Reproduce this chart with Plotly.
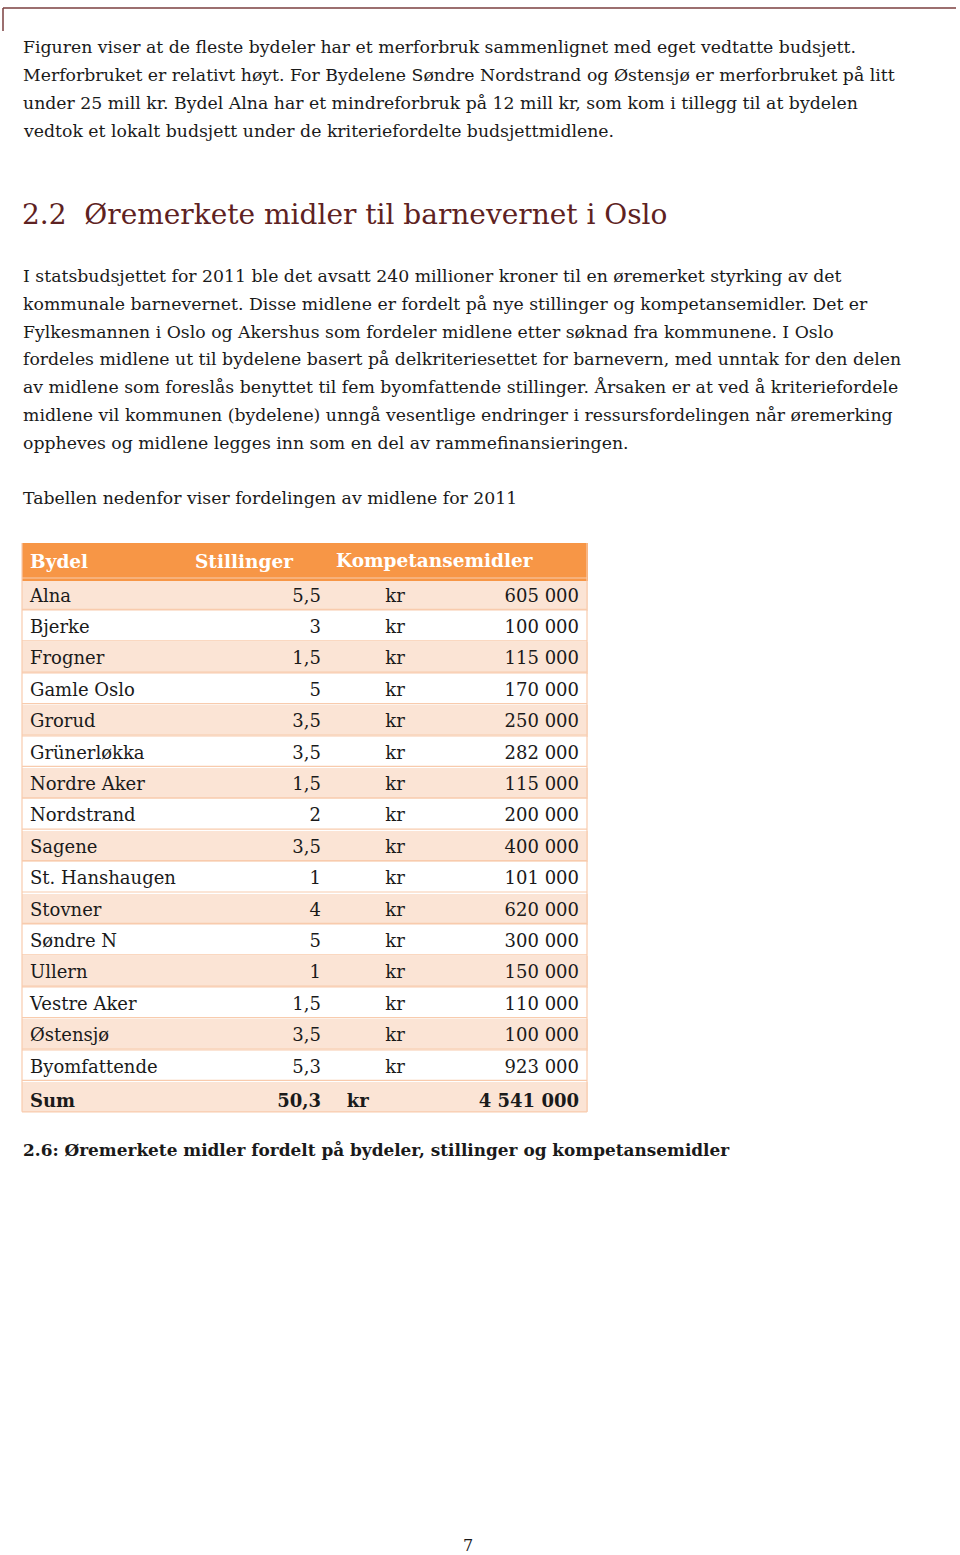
import plotly.graph_objects as go

# ---------------- data ----------------
bydel = ["Alna", "Bjerke", "Frogner", "Gamle Oslo", "Grorud", "Grünerløkka",
         "Nordre Aker", "Nordstrand", "Sagene", "St. Hanshaugen", "Stovner",
         "Søndre N", "Ullern", "Vestre Aker", "Østensjø", "Byomfattende"]
stillinger = [5.5, 3, 1.5, 5, 3.5, 3.5, 1.5, 2, 3.5, 1, 4, 5, 1, 1.5, 3.5, 5.3]
kompetansemidler = [605000, 100000, 115000, 170000, 250000, 282000, 115000,
                    200000, 400000, 101000, 620000, 300000, 150000, 110000,
                    100000, 923000]
header_labels = ["Bydel", "Stillinger", "Kompetansemidler"]
sum_label = "Sum"

para1 = [
    "Figuren viser at de fleste bydeler har et merforbruk sammenlignet med eget vedtatte budsjett.",
    "Merforbruket er relativt høyt. For Bydelene Søndre Nordstrand og Østensjø er merforbruket på litt",
    "under 25 mill kr. Bydel Alna har et mindreforbruk på 12 mill kr, som kom i tillegg til at bydelen",
    "vedtok et lokalt budsjett under de kriteriefordelte budsjettmidlene.",
]
heading = "2.2  Øremerkete midler til barnevernet i Oslo"
para2 = [
    "I statsbudsjettet for 2011 ble det avsatt 240 millioner kroner til en øremerket styrking av det",
    "kommunale barnevernet. Disse midlene er fordelt på nye stillinger og kompetansemidler. Det er",
    "Fylkesmannen i Oslo og Akershus som fordeler midlene etter søknad fra kommunene. I Oslo",
    "fordeles midlene ut til bydelene basert på delkriteriesettet for barnevern, med unntak for den delen",
    "av midlene som foreslås benyttet til fem byomfattende stillinger. Årsaken er at ved å kriteriefordele",
    "midlene vil kommunen (bydelene) unngå vesentlige endringer i ressursfordelingen når øremerking",
    "oppheves og midlene legges inn som en del av rammefinansieringen.",
]
intro_table = "Tabellen nedenfor viser fordelingen av midlene for 2011"
caption = "2.6: Øremerkete midler fordelt på bydeler, stillinger og kompetansemidler"
page_no = "7"

# ---------------- helpers ----------------
def fmt_dec(v):
    s = f"{v:.1f}".rstrip("0").rstrip(".")
    return s.replace(".", ",")

def fmt_int(v):
    return f"{v:,}".replace(",", " ")

FONT = "DejaVu Serif"
W, H = 960, 1555
BODY = 17.3
TEXT_COL = "#1a1a1a"
BORDER = "#F8CBAD"

col1 = [b.replace(" ", "\u00a0") for b in bydel] + [f"<b>{sum_label}</b>"]
col2 = [fmt_dec(v) for v in stillinger] + [f"<b>{fmt_dec(sum(stillinger))}</b>"]
col3 = ["kr"] * len(bydel) + ["<b>kr</b>" + "\u00a0" * 13]
col4 = [fmt_int(v) for v in kompetansemidler] + [f"<b>{fmt_int(sum(kompetansemidler))}</b>"]

n = len(col1)
peach, white = "#FBE4D5", "#FFFFFF"
row_fill = [peach if i % 2 == 0 else white for i in range(n)]

# table geometry (page pixels)
TX0, TX1 = 22, 587
TTOP = 543
HDR_H = 35
ROW_H = 31.4
TBOT = TTOP + HDR_H + ROW_H * n

fig = go.Figure()
fig.add_trace(go.Table(
    domain=dict(x=[TX0 / W, TX1 / W], y=[1 - (TBOT + 1) / H, 1 - TTOP / H]),
    columnwidth=[165, 142, 132, 126],
    header=dict(
        values=[f"<b>{header_labels[0]}</b>", f"<b>{header_labels[1]}</b>", "", ""],
        fill_color="#F79646",
        line=dict(color="#F79646", width=1),
        align="left",
        font=dict(family=FONT, size=18.5, color="white"),
        height=HDR_H,
    ),
    cells=dict(
        values=[col1, col2, col3, col4],
        fill_color=[row_fill] * 4,
        line=dict(color=[row_fill] * 4, width=1),
        align=["left", "right", "center", "right"],
        font=dict(family=FONT, size=18, color=TEXT_COL),
        height=ROW_H,
    ),
))

annotations = []

def add_line(text, y, size=BODY, color=TEXT_COL, x=21, xanchor="left"):
    annotations.append(dict(
        text=text, x=x, y=y, xref="x", yref="y", xanchor=xanchor, yanchor="middle",
        showarrow=False, font=dict(family=FONT, size=size, color=color),
    ))

for i, line in enumerate(para1):
    add_line(line, 47 + 28 * i)
add_line(heading, 214, size=28, color="#5E2222", x=20)
for i, line in enumerate(para2):
    add_line(line, 276 + 27.8 * i)
add_line(intro_table, 498)
# header label spanning the two last columns
add_line(f"<b>{header_labels[2]}</b>", TTOP + HDR_H / 2, size=18.5, color="white", x=334)
add_line(f"<b>{caption}</b>", 1150, size=16.9)
add_line(page_no, 1545, size=16, x=468, xanchor="center")

shapes = [
    dict(type="line", xref="x", yref="y", x0=3, x1=956, y0=8, y1=8,
         line=dict(color="#7B3F3F", width=1.5)),
    dict(type="line", xref="x", yref="y", x0=3, x1=3, y0=8, y1=31,
         line=dict(color="#7B3F3F", width=1.5)),
]
# horizontal row separators and outer side borders
for k in range(n + 1):
    yk = TTOP + HDR_H + ROW_H * k
    shapes.append(dict(type="line", xref="x", yref="y", x0=TX0, x1=TX1, y0=yk, y1=yk,
                       line=dict(color=BORDER, width=1.2)))
for xb in (TX0, TX1):
    shapes.append(dict(type="line", xref="x", yref="y", x0=xb, x1=xb, y0=TTOP, y1=TBOT,
                       line=dict(color=BORDER, width=1.2)))

fig.update_layout(
    width=W, height=H,
    margin=dict(l=0, r=0, t=0, b=0),
    paper_bgcolor="white", plot_bgcolor="rgba(0,0,0,0)",
    xaxis=dict(range=[0, W], visible=False, fixedrange=True),
    yaxis=dict(range=[H, 0], visible=False, fixedrange=True),
    annotations=annotations,
    shapes=shapes,
    showlegend=False,
)

fig.write_html("out.html", config={"displayModeBar": False},
               post_script="document.body.style.margin='0';")
